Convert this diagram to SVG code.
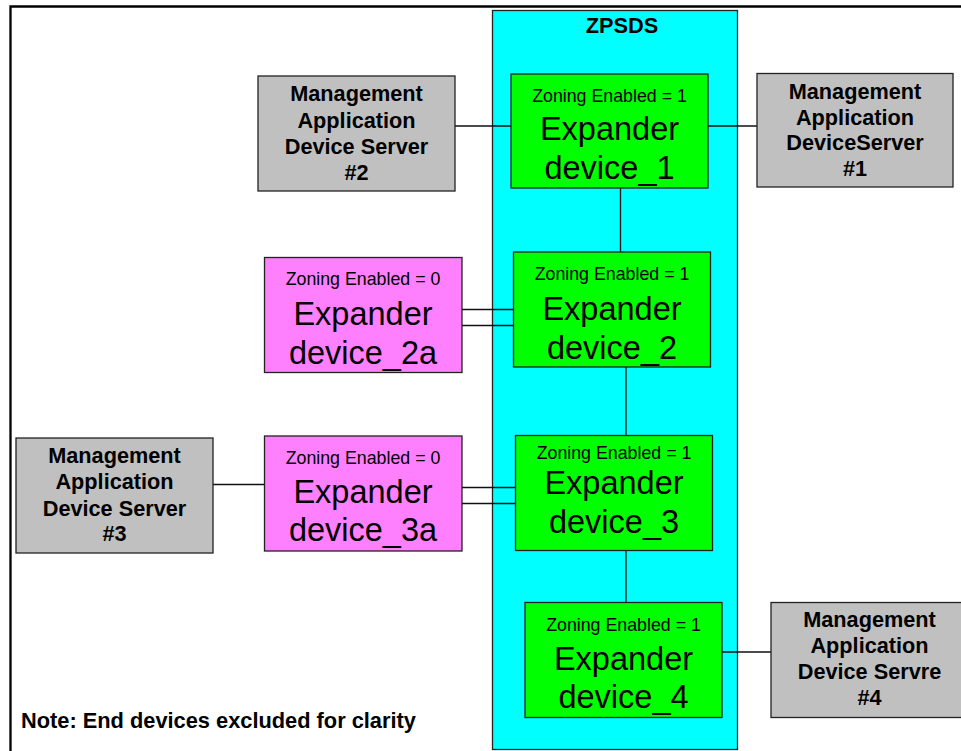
<svg xmlns="http://www.w3.org/2000/svg" width="961" height="751" viewBox="0 0 961 751">
<style>
.bg{fill:#ffffff}
.frame{fill:none;stroke:#000;stroke-width:2.3}
.zone{fill:#00ffff;stroke:#222;stroke-width:1.3}
.exp{fill:#00ff00;stroke:#222;stroke-width:1.3}
.leg{fill:#ff80ff;stroke:#222;stroke-width:1.3}
.srv{fill:#c0c0c0;stroke:#222;stroke-width:1.3}
.ln{fill:none;stroke:#111;stroke-width:1.3}
text{font-family:"Liberation Sans",Arial,sans-serif;fill:#000}
.b{font-weight:bold;font-size:21.7px;text-anchor:middle}
.z{font-size:17.8px;text-anchor:middle}
.e{font-size:32.5px;text-anchor:middle}
.note{font-weight:bold;font-size:21.8px}
</style>
<rect class="bg" x="0" y="0" width="961" height="751"/>
<path class="frame" d="M10.5,751 V6.5 H961"/>
<g id="zpsds">
<rect class="zone" x="492.5" y="10.5" width="245" height="739"/>
<text class="b" x="622" y="33">ZPSDS</text>
</g>
<g id="connectors">
<line class="ln" x1="455" y1="126" x2="511" y2="126"/>
<line class="ln" x1="708" y1="126" x2="757" y2="126"/>
<line class="ln" x1="620.5" y1="188" x2="620.5" y2="252"/>
<line class="ln" x1="462" y1="309.5" x2="513" y2="309.5"/>
<line class="ln" x1="462" y1="325.5" x2="513" y2="325.5"/>
<line class="ln" x1="626" y1="367" x2="626" y2="435"/>
<line class="ln" x1="213" y1="484.5" x2="264" y2="484.5"/>
<line class="ln" x1="462" y1="487.5" x2="515" y2="487.5"/>
<line class="ln" x1="462" y1="503.5" x2="515" y2="503.5"/>
<line class="ln" x1="626" y1="550" x2="626" y2="602"/>
<line class="ln" x1="722" y1="652" x2="771" y2="652"/>
</g>
<g id="server2">
<rect class="srv" x="258" y="76" width="197" height="115"/>
<text class="b" x="356.5" y="101">Management</text>
<text class="b" x="356.5" y="127.5">Application</text>
<text class="b" x="356.5" y="154">Device Server</text>
<text class="b" x="356.5" y="179.5">#2</text>
</g>
<g id="server1">
<rect class="srv" x="757" y="73.5" width="196" height="113.5"/>
<text class="b" x="855" y="98.5">Management</text>
<text class="b" x="855" y="124.5">Application</text>
<text class="b" x="855" y="150">DeviceServer</text>
<text class="b" x="855" y="176">#1</text>
</g>
<g id="expander1">
<rect class="exp" x="511" y="74" width="197" height="114"/>
<text class="z" x="609.5" y="102">Zoning Enabled = 1</text>
<text class="e" x="609.5" y="140">Expander</text>
<text class="e" x="609.5" y="179">device_1</text>
</g>
<g id="expander2a">
<rect class="leg" x="264.5" y="257.5" width="197.5" height="115"/>
<text class="z" x="363" y="285">Zoning Enabled = 0</text>
<text class="e" x="363" y="324.5">Expander</text>
<text class="e" x="363" y="363.5">device_2a</text>
</g>
<g id="expander2">
<rect class="exp" x="513.5" y="252" width="197" height="115"/>
<text class="z" x="612" y="280">Zoning Enabled = 1</text>
<text class="e" x="612" y="320">Expander</text>
<text class="e" x="612" y="359">device_2</text>
</g>
<g id="server3">
<rect class="srv" x="16" y="438" width="197" height="115"/>
<text class="b" x="114.5" y="462.5">Management</text>
<text class="b" x="114.5" y="488.5">Application</text>
<text class="b" x="114.5" y="515.5">Device Server</text>
<text class="b" x="114.5" y="541">#3</text>
</g>
<g id="expander3a">
<rect class="leg" x="264.5" y="436" width="197.5" height="115"/>
<text class="z" x="363" y="464">Zoning Enabled = 0</text>
<text class="e" x="363" y="502.5">Expander</text>
<text class="e" x="363" y="541">device_3a</text>
</g>
<g id="expander3">
<rect class="exp" x="515.5" y="435.5" width="197" height="115"/>
<text class="z" x="614" y="459">Zoning Enabled = 1</text>
<text class="e" x="614" y="493.5">Expander</text>
<text class="e" x="614" y="532.5">device_3</text>
</g>
<g id="expander4">
<rect class="exp" x="525" y="602.5" width="197" height="115"/>
<text class="z" x="623.5" y="631">Zoning Enabled = 1</text>
<text class="e" x="623.5" y="670">Expander</text>
<text class="e" x="623.5" y="708">device_4</text>
</g>
<g id="server4">
<rect class="srv" x="771" y="602.5" width="197" height="115"/>
<text class="b" x="869.5" y="626.5">Management</text>
<text class="b" x="869.5" y="652.5">Application</text>
<text class="b" x="869.5" y="679">Device Servre</text>
<text class="b" x="869.5" y="705">#4</text>
</g>
<g id="note">
<text class="note" x="21" y="728">Note: End devices excluded for clarity</text>
</g>
</svg>
